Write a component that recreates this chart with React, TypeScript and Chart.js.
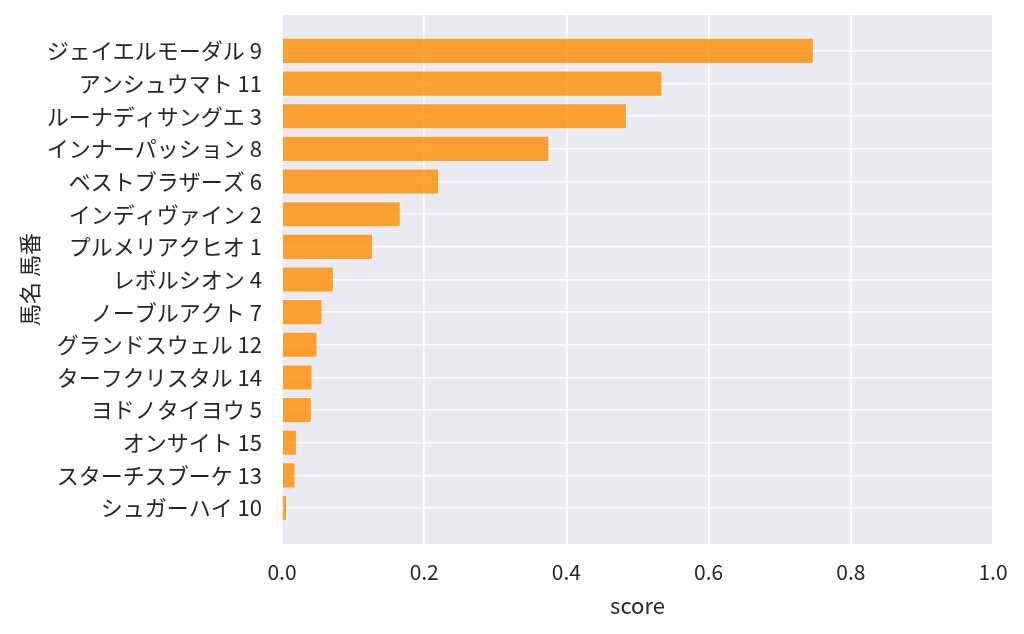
import { useEffect, useRef } from "react"
import { Chart, type ChartConfiguration, registerables } from "chart.js"

Chart.register(...registerables)

const horses = [
  "ジェイエルモーダル 9",
  "アンシュウマト 11",
  "ルーナディサングエ 3",
  "インナーパッション 8",
  "ベストブラザーズ 6",
  "インディヴァイン 2",
  "プルメリアクヒオ 1",
  "レボルシオン 4",
  "ノーブルアクト 7",
  "グランドスウェル 12",
  "ターフクリスタル 14",
  "ヨドノタイヨウ 5",
  "オンサイト 15",
  "スターチスブーケ 13",
  "シュガーハイ 10",
]
const scores = [0.748, 0.535, 0.485, 0.376, 0.221, 0.167, 0.128, 0.073, 0.057, 0.05, 0.043, 0.042, 0.021, 0.019, 0.007]
const xTicks = [0, 0.2, 0.4, 0.6, 0.8, 1.0]

const FONT = "'Noto Sans CJK JP', 'Noto Sans', sans-serif"
const TEXT = "#262626"

// plot background, seaborn darkgrid style
const bgPlugin = {
  id: "plotBg",
  beforeDraw(chart: Chart) {
    const { ctx, chartArea } = chart
    ctx.save()
    ctx.fillStyle = "#EAEAF2"
    ctx.fillRect(chartArea.left, chartArea.top, chartArea.right - chartArea.left, chartArea.bottom - chartArea.top)
    ctx.restore()
  },
}

export default function App() {
  const chartRef = useRef<HTMLCanvasElement>(null)
  const chartInstance = useRef<Chart | null>(null)

  useEffect(() => {
    if (!chartRef.current) return
    const ctx = chartRef.current.getContext("2d")
    if (!ctx) return

    if (chartInstance.current) {
      chartInstance.current.destroy()
    }

    const config: ChartConfiguration = {
      type: "bar",
      data: {
        datasets: [
          {
            label: "score",
            data: scores.map((v, i) => ({ x: v, y: i })),
            backgroundColor: "rgba(255, 140, 0, 0.8)",
            borderColor: "rgba(255, 255, 255, 0.5)",
            borderWidth: 1,
            barPercentage: 0.8,
            categoryPercentage: 1,
          },
        ],
      },
      options: {
        indexAxis: "y",
        animation: false,
        responsive: true,
        maintainAspectRatio: false,
        layout: { padding: { top: 15, right: 31, left: 0, bottom: 0 } },
        scales: {
          x: {
            type: "linear",
            min: 0,
            max: 1,
            afterBuildTicks: (scale: any) => {
              scale.ticks = xTicks.map((v) => ({ value: v }))
            },
            afterFit: (scale: any) => {
              scale.height = 90
              scale.paddingLeft = 0
              scale.paddingRight = 0
            },
            ticks: {
              color: TEXT,
              font: { family: FONT, size: 21 },
              padding: 15,
              callback: (v: any) => Number(v).toFixed(1),
            },
            grid: { color: "#FFFFFF", lineWidth: 1.6, drawTicks: false },
            border: { display: false },
            title: {
              display: true,
              text: "score",
              color: TEXT,
              font: { family: FONT, size: 22 },
              padding: { top: 0, bottom: 15 },
            },
          },
          y: {
            type: "linear",
            reverse: true,
            offset: false,
            min: -1.1,
            max: horses.length - 1 + 1.1,
            afterBuildTicks: (scale: any) => {
              scale.ticks = horses.map((_, i) => ({ value: i }))
            },
            afterFit: (scale: any) => {
              scale.width = 282
              scale.paddingTop = 0
              scale.paddingBottom = 0
            },
            ticks: {
              color: TEXT,
              autoSkip: false,
              font: { family: FONT, size: 22 },
              padding: 20,
              callback: (v: any) => horses[Math.round(Number(v))] ?? "",
            },
            grid: { color: "#FFFFFF", lineWidth: 1.6, drawTicks: false, offset: false },
            border: { display: false },
            title: {
              display: true,
              text: "馬名 馬番",
              color: TEXT,
              font: { family: FONT, size: 22 },
              padding: { top: 16, bottom: 0 },
            },
          },
        },
        plugins: {
          legend: { display: false },
          tooltip: { enabled: false },
        },
      },
      plugins: [bgPlugin],
    }

    chartInstance.current = new Chart(ctx, config)

    return () => {
      if (chartInstance.current) {
        chartInstance.current.destroy()
        chartInstance.current = null
      }
    }
  }, [])

  return (
    <div style={{ position: "fixed", left: 0, top: 0, width: 1024, height: 634, background: "#fff" }}>
      <canvas ref={chartRef} />
    </div>
  )
}
